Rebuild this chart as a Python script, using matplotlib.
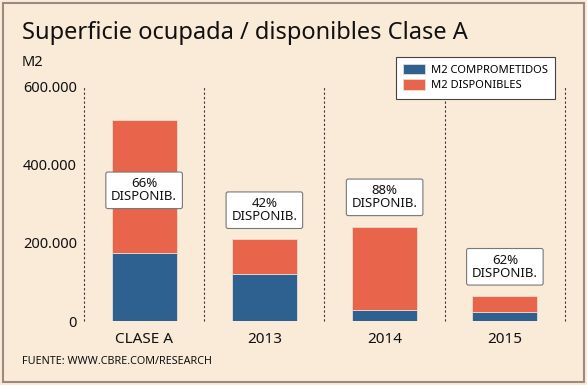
import matplotlib.pyplot as plt
from matplotlib.patches import Rectangle
from matplotlib.ticker import FuncFormatter

# data (m2)
categories = ['CLASE A', '2013', '2014', '2015']
comprometidos = [175000, 121000, 29000, 24000]
disponibles = [341000, 88000, 213000, 40000]
pct_labels = ['66%', '42%', '88%', '62%']
yticks = [0, 200000, 400000, 600000]

blue = '#2F6190'
orange = '#E8644A'
bg = '#FAEBD9'

plt.rcParams['font.family'] = ['Noto Sans', 'DejaVu Sans']

fig = plt.figure(figsize=(5.87, 3.85), dpi=100, facecolor=bg)
ax = fig.add_axes([0.1431, 0.1662, 0.8194, 0.608])
ax.set_facecolor(bg)

x = list(range(len(categories)))
ax.bar(x, comprometidos, width=0.54, color=blue, edgecolor='#E8DCD0', linewidth=0.6,
       label='M2 COMPROMETIDOS')
ax.bar(x, disponibles, width=0.54, bottom=comprometidos, color=orange,
       edgecolor='#E8DCD0', linewidth=0.6, label='M2 DISPONIBLES')

ax.set_xlim(-0.5, len(categories) - 0.5)
ax.set_ylim(0, 600000)

# dashed separators between the categories
for sep in [i - 0.5 for i in range(len(categories) + 1)]:
    ax.axvline(sep, color='#333333', linestyle=(0, (2, 2)), linewidth=0.8, clip_on=False)

for s in ax.spines.values():
    s.set_visible(False)

ax.set_yticks(yticks)
ax.yaxis.set_major_formatter(FuncFormatter(lambda v, p: '{:,.0f}'.format(v).replace(',', '.')))
ax.set_xticks(x)
ax.set_xticklabels(categories)
ax.tick_params(axis='both', length=0, labelsize=11, colors='#111111', pad=5)
ax.tick_params(axis='y', labelsize=10.5)
ax.tick_params(axis='x', pad=8)

# percentage boxes above (or inside) the bars
for i in x:
    total = comprometidos[i] + disponibles[i]
    ypos = min(total + 75000, 335000)
    ax.text(i, ypos, pct_labels[i] + '\nDISPONIB.', ha='center', va='center',
            fontsize=9.5, linespacing=1.0, color='#111111',
            bbox=dict(boxstyle='round,pad=0.4,rounding_size=0.15', facecolor='white',
                      edgecolor='#777777', linewidth=0.8))

leg = ax.legend(loc='upper right', bbox_to_anchor=(0.98, 1.13), frameon=True, fancybox=False,
                fontsize=8, handlelength=1.9, handleheight=1.1, borderpad=0.65,
                labelspacing=0.3, handletextpad=0.6, borderaxespad=0)
leg.get_frame().set_edgecolor('#444444')
leg.get_frame().set_linewidth(0.8)
leg.get_frame().set_facecolor('white')
leg.get_frame().set_alpha(1)

fig.text(22 / 587, 1 - 33 / 385, 'Superficie ocupada / disponibles Clase A',
         fontsize=17, color='#111111', va='center', ha='left')
fig.text(22 / 587, 1 - 62 / 385, 'M2', fontsize=10.5, color='#111111', va='center', ha='left')
fig.text(22 / 587, 1 - 361 / 385, 'FUENTE: WWW.CBRE.COM/RESEARCH', fontsize=7.8,
         color='#111111', va='center', ha='left')

fig.patches.append(Rectangle((3 / 587, 3 / 385), 581 / 587, 379 / 385, transform=fig.transFigure,
                             fill=False, edgecolor='#9C8A80', linewidth=1.5))

fig.savefig('out.png', dpi=100, facecolor=bg)
